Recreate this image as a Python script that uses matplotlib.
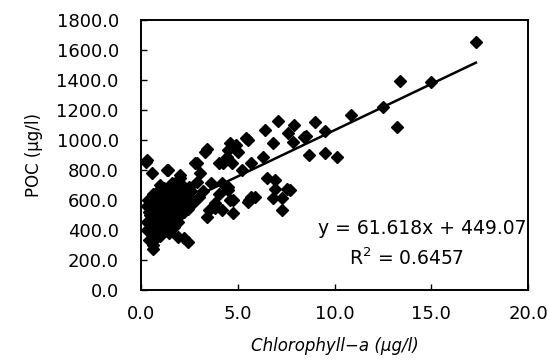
import numpy as np
import matplotlib
matplotlib.use('Agg')
import matplotlib.pyplot as plt

# chlorophyll-a (ug/l) and POC (ug/l)
chl = [17.3, 13.4, 15.0, 12.5, 13.2, 10.85, 9.0, 9.5, 8.5, 8.7, 9.5, 10.1,
       7.1, 7.9, 6.4, 7.6, 8.4, 6.8, 7.85, 5.5, 4.6, 6.3, 5.0, 5.7, 5.2, 4.7,
       6.5, 6.9, 6.9, 7.55, 7.3, 5.9, 5.6, 4.5, 4.6, 7.7, 7.3, 6.8, 5.7, 5.5,
       4.75, 4.75, 4.2, 3.8, 3.4, 3.5, 2.2, 2.4, 1.9, 0.6, 0.3, 0.25, 0.55,
       1.35, 2.8, 3.05, 3.3, 4.0, 4.45, 3.6, 4.2, 4.5, 2.5, 2.0, 1.6, 5.4,
       4.9, 4.5, 3.4, 4.25, 2.9, 0.3, 1.4, 2.0,
       0.3, 0.4, 0.5, 0.5, 0.6, 0.6, 0.7, 0.7, 0.8, 0.8, 0.9, 0.9, 1.0, 1.0,
       1.0, 1.1, 1.1, 1.2, 1.2, 1.2, 1.3, 1.3, 1.4, 1.4, 1.5, 1.5, 1.6, 1.6,
       1.7, 1.8, 1.8, 1.9, 2.0, 2.0, 2.1, 2.2, 2.3, 2.4, 2.5, 2.6, 0.4, 0.7,
       0.9, 0.5, 1.1, 0.8, 1.3, 0.6, 1.5, 1.7, 0.35, 1.0, 2.7, 3.0, 3.2, 2.9,
       0.45, 0.65, 0.85, 1.25, 1.45, 1.9, 2.2, 0.3, 3.8, 4.0]
poc = [1650, 1393, 1387, 1220, 1087, 1167, 1120, 1060, 1027, 900, 913, 887,
       1127, 1100, 1067, 1047, 1020, 980, 987, 1000, 980, 887, 920, 847, 800, 847,
       747, 733, 673, 673, 613, 620, 600, 667, 600, 667, 533, 613, 620, 587,
       513, 600, 533, 547, 487, 533, 347, 320, 353, 273, 400, 853, 780,
       800, 847, 780, 920, 847, 887, 713, 713, 687, 687, 747, 713, 1013,
       967, 933, 940, 847, 847, 867, 800, 767,
       450, 520, 380, 600, 480, 300, 550, 420, 650, 350, 500, 580, 450, 620,
       700, 380, 530, 480, 600, 680, 420, 550, 500, 640, 460, 580, 700, 520,
       600, 480, 650, 560, 620, 500, 700, 580, 640, 540, 600, 660, 330, 470,
       400, 560, 460, 540, 500, 640, 540, 420, 600, 360, 580, 620, 660, 720,
       500, 600, 440, 620, 380, 450, 520, 560, 580, 640]

slope, intercept = 61.618, 449.07
r2 = 0.6457

fig = plt.figure(figsize=(5.49, 3.62), dpi=100)
ax = fig.add_axes([0.257, 0.199, 0.705, 0.746])

ax.plot(chl, poc, 'D', color='black', ms=6, mec='black')
xl = np.array([min(chl), max(chl)])
ax.plot(xl, slope * xl + intercept, color='black', lw=1.8)

ax.set_xlim(0, 20)
ax.set_ylim(0, 1800)
ax.set_xticks([0, 5, 10, 15, 20])
ax.set_yticks(np.arange(0, 1801, 200))
ax.set_xticklabels(['%.1f' % v for v in [0, 5, 10, 15, 20]])
ax.set_yticklabels(['%.1f' % v for v in np.arange(0, 1801, 200)])
ax.tick_params(direction='in', length=4, width=1, labelsize=13)
ax.tick_params(axis='y', pad=16)
ax.tick_params(axis='x', pad=11)
for s in ax.spines.values():
    s.set_linewidth(1.4)

ax.set_xlabel('Chlorophyll\u2212a (\u03bcg/l)', fontsize=12, style='italic', labelpad=10)
ax.set_ylabel('POC (\u03bcg/l)', fontsize=12, labelpad=10)

ax.text(19.9, 407, 'y = %.3fx + %.2f' % (slope, intercept), ha='right', va='center', fontsize=13.5)
ax.text(13.7, 213, 'R$^2$ = %.4f' % r2, ha='center', va='center', fontsize=13.5)

fig.savefig('out.png', dpi=100)
